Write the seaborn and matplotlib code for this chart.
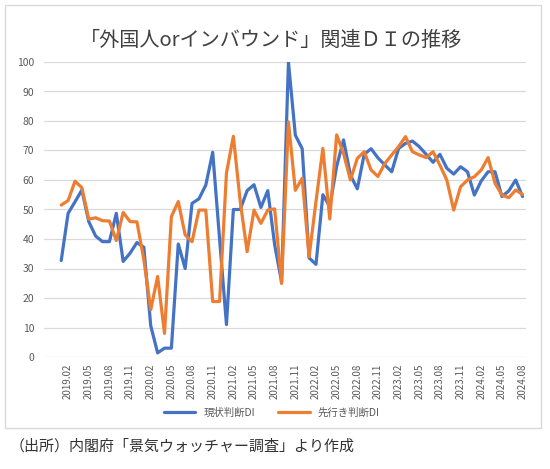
import numpy as np
import pandas as pd
import matplotlib
matplotlib.use('Agg')
import matplotlib.pyplot as plt
import seaborn as sns
from matplotlib.patches import Rectangle
from matplotlib.lines import Line2D

# monthly, 2019.01 - 2024.08
months = pd.period_range('2019-01', '2024-08', freq='M')
month_labels = [f'{p.year}.{p.month:02d}' for p in months]

genjo = [32.7, 48.7, 52.6, 56.6, 45.9, 41.0, 39.1, 39.1, 48.7, 32.4,
         35.2, 38.8, 37.2, 10.6, 1.4, 3.0, 3.0, 38.3, 30.0, 52.1,
         53.6, 58.3, 69.4, 40.0, 11.0, 50.0, 50.0, 56.4, 58.4, 50.7,
         56.4, 38.0, 25.5, 100.0, 75.2, 70.6, 33.6, 31.4, 55.0, 51.0,
         64.6, 73.6, 61.7, 57.0, 68.7, 70.6, 67.5, 65.1, 62.8, 70.7,
         72.4, 73.2, 71.3, 68.7, 66.0, 68.7, 64.0, 62.0, 64.5, 62.8,
         54.9, 59.7, 62.8, 62.8, 54.4, 56.3, 60.0, 54.4]

sakiyuki = [51.5, 53.0, 59.6, 57.4, 46.7, 47.2, 46.2, 46.1, 39.5, 49.0,
            45.9, 45.8, 33.0, 16.0, 27.3, 8.0, 47.6, 52.7, 41.4, 39.1,
            49.8, 49.8, 18.8, 18.8, 62.4, 74.8, 52.7, 35.7, 49.8, 45.3,
            49.8, 50.2, 24.9, 79.7, 56.5, 60.6, 34.0, 52.7, 70.7, 46.8,
            75.3, 69.0, 60.0, 67.3, 69.6, 63.4, 61.2, 65.6, 68.5, 71.3,
            74.7, 69.6, 68.5, 67.6, 69.6, 65.0, 60.0, 49.8, 57.7, 60.0,
            61.1, 63.4, 67.6, 58.9, 54.9, 54.0, 56.6, 55.1]

series_names = ['現状判断DI', '先行き判断DI']
colors = ['#4472C4', '#ED7D31']

df = pd.DataFrame({
    'idx': list(range(len(months))) * 2,
    'value': genjo + sakiyuki,
    'series': [series_names[0]] * len(genjo) + [series_names[1]] * len(sakiyuki),
})

sns.set_style('white')
plt.rcParams['font.family'] = ['Noto Sans CJK JP', 'DejaVu Sans']

fig = plt.figure(figsize=(5.5, 4.69), dpi=100)
ax = fig.add_axes([44/550, 112/469, 482/550, 295/469])

sns.lineplot(data=df, x='idx', y='value', hue='series', hue_order=series_names,
             palette=colors, linewidth=2.3, ax=ax, legend=False)

ax.set_xlim(-2.5, 67.5)
ax.set_ylim(0, 100)
ax.set_yticks(range(0, 101, 10))
ax.yaxis.grid(True, color='#D9D9D9', linewidth=0.9)
ax.set_axisbelow(True)
for s in ax.spines.values():
    s.set_visible(False)

tick_pos = list(range(1, len(months), 3))
ax.set_xticks(tick_pos)
ax.set_xticklabels([month_labels[i] for i in tick_pos], rotation=90)
ax.tick_params(axis='x', length=0, pad=5, labelsize=7, labelcolor='#595959')
ax.tick_params(axis='y', length=0, pad=7, labelsize=7.5, labelcolor='#595959')
ax.set_xlabel('')
ax.set_ylabel('')

handles = [Line2D([], [], color=c, linewidth=2.3) for c in colors]
fig.legend(handles, series_names, loc='center', bbox_to_anchor=(272/550, 1 - 413/469),
           ncol=2, frameon=False, fontsize=7.5, handlelength=3.0, columnspacing=2.2,
           labelcolor='#595959')

fig.text(271/550, 1 - 40/469, '「外国人orインバウンド」関連ＤＩの推移',
         ha='center', va='center', fontsize=14.5, color='#404040')

fig.text(10/550, 1 - 446/469, '（出所）内閣府「景気ウォッチャー調査」より作成',
         ha='left', va='center', fontsize=10.8, color='#333333')

fig.add_artist(Rectangle((5/550, 1 - 428/469), 536/550, 423/469,
                         transform=fig.transFigure, fill=False,
                         edgecolor='#D9D9D9', linewidth=1))

fig.savefig('out.png', dpi=100)
